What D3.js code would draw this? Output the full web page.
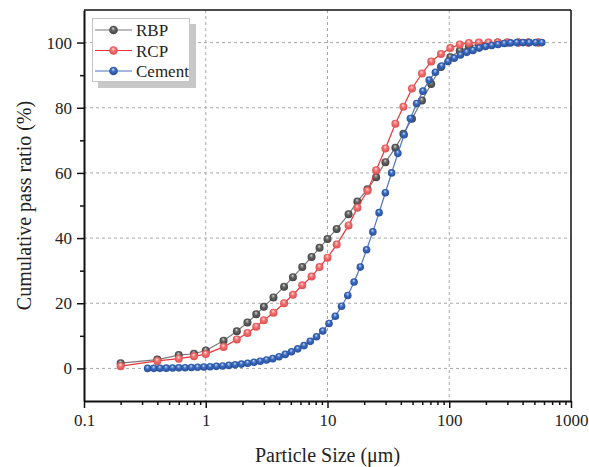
<!DOCTYPE html>
<html>
<head>
<meta charset="utf-8">
<script src="https://cdn.jsdelivr.net/npm/d3@7"></script>
<style>
  body { margin: 0; background: white; }
  svg text { font-family: "Liberation Serif", "Times New Roman", serif; fill: #222; }
</style>
</head>
<body>
<div id="chart"></div>
<script>
// particle sizes (um) for RBP and RCP (same instrument bins)
const rbpSize = [0.2, 0.4, 0.6, 0.8, 1.0, 1.4, 1.8, 2.2, 2.6, 3.0, 3.6, 4.4, 5.2, 6.2, 7.4, 8.6, 10, 11.9, 14.9, 17.6,
  21.3, 25.1, 29.9, 36.1, 42, 49.4, 59.7, 71.1, 85.5, 102, 122, 145, 175, 210, 250, 300, 370, 445, 540]
const rbpPass = [1.6, 2.7, 4.1, 4.5, 5.5, 8.5, 11.4, 14.1, 16.6, 18.9, 21.8, 25.1, 28.0, 31.1, 34.2, 37.0, 39.7, 42.8, 47.3, 51.2,
  55.0, 58.7, 63.3, 67.7, 72.0, 76.6, 82.2, 87.3, 92.5, 95.5, 97.5, 98.8, 99.5, 99.8, 100, 100, 100, 100, 100]
const rcpPass = [0.7, 2.3, 3.0, 3.7, 4.4, 6.6, 8.9, 10.9, 12.8, 14.8, 17.1, 20.0, 22.6, 25.5, 28.2, 31.1, 34.0, 38.0, 43.9, 49.3,
  54.5, 60.8, 67.5, 75.1, 80.3, 85.9, 90.5, 94.2, 96.5, 98.3, 99.4, 99.9, 100, 100, 100, 100, 100, 100, 100]

// cement bins
const cementSize = [0.333, 0.375, 0.421, 0.474, 0.534, 0.601, 0.677, 0.762, 0.857, 0.965,
  1.086, 1.223, 1.377, 1.550, 1.744, 1.963, 2.210, 2.488, 2.801, 3.152,
  3.548, 3.995, 4.496, 5.061, 5.697, 6.412, 7.218, 8.125, 9.146, 10.29,
  11.59, 13.04, 14.68, 16.53, 18.60, 20.94, 23.57, 26.53, 29.87, 33.62,
  37.84, 42.60, 47.96, 53.98, 60.77, 68.39, 76.98, 86.66, 97.54, 109.8,
  123.6, 139.1, 156.6, 176.3, 198.4, 223.4, 251.4, 283.0, 318.6, 358.6,
  403.6, 454.4, 511.5, 575.7]
const cementPass = [0, 0.02, 0.05, 0.08, 0.12, 0.17, 0.22, 0.28, 0.35, 0.43,
  0.52, 0.63, 0.76, 0.92, 1.1, 1.32, 1.58, 1.88, 2.2, 2.6,
  3.0, 3.6, 4.3, 5.1, 6.0, 7.0, 8.3, 9.7, 11.5, 13.8,
  16.0, 19.1, 22.4, 26.5, 31.1, 36.4, 41.9, 47.8, 53.9, 60.0,
  66.0, 71.7, 76.7, 81.3, 85.1, 88.5, 90.9, 92.8, 94.2, 95.2,
  96.2, 97.0, 97.6, 98.3, 98.8, 99.1, 99.4, 99.7, 99.9, 100,
  100, 100, 100, 100]

const xTicks = [0.1, 1, 10, 100, 1000]
const yTicks = [0, 20, 40, 60, 80, 100]
const yMinor = [10, 30, 50, 70, 90]

const series = [
  { name: 'RBP', x: rbpSize, y: rbpPass, line: '#7a7a7a', light: '#d8d8d8', mid: '#666666', dark: '#3c3c3c', r: 4 },
  { name: 'RCP', x: rbpSize, y: rcpPass, line: '#e8353a', light: '#ffe0e0', mid: '#f37475', dark: '#d9484a', r: 4 },
  { name: 'Cement', x: cementSize, y: cementPass, line: '#4a74c4', light: '#d6e2fa', mid: '#3d6cc2', dark: '#234a92', r: 3.8 }
]

const width = 589
const height = 467
const margin = { left: 84, right: 18, top: 10, bottom: 66 }

const svg = d3.select('#chart').append('svg')
  .attr('width', width)
  .attr('height', height)

const xScale = d3.scaleLog().domain([0.1, 1000]).range([margin.left, width - margin.right])
const yScale = d3.scaleLinear().domain([-10, 110]).range([height - margin.bottom, margin.top])

const defs = svg.append('defs')
series.forEach((s, i) => {
  const g = defs.append('radialGradient')
    .attr('id', 'ball' + i)
    .attr('cx', '50%').attr('cy', '50%').attr('r', '55%')
    .attr('fx', '45%').attr('fy', '28%')
  g.append('stop').attr('offset', '0%').attr('stop-color', s.light)
  g.append('stop').attr('offset', '40%').attr('stop-color', s.mid)
  g.append('stop').attr('offset', '100%').attr('stop-color', s.dark)
})

// grid
const grid = svg.append('g')
xTicks.slice(1, -1).forEach(v => {
  grid.append('line')
    .attr('x1', xScale(v)).attr('x2', xScale(v))
    .attr('y1', yScale(110)).attr('y2', yScale(-10))
    .attr('stroke', '#a8a8a8').attr('stroke-width', 1).attr('stroke-dasharray', '3,3')
})
yTicks.forEach(v => {
  grid.append('line')
    .attr('x1', xScale(0.1)).attr('x2', xScale(1000))
    .attr('y1', yScale(v)).attr('y2', yScale(v))
    .attr('stroke', '#a8a8a8').attr('stroke-width', 1).attr('stroke-dasharray', '3,3')
})

// data
const valueline = d3.line()
  .x(d => xScale(d[0]))
  .y(d => yScale(d[1]))

series.forEach((s, i) => {
  const pts = s.x.map((v, k) => [v, s.y[k]])
  svg.append('path')
    .datum(pts)
    .attr('d', valueline)
    .attr('fill', 'none')
    .attr('stroke', s.line)
    .attr('stroke-width', 1.2)
  svg.append('g').selectAll('circle')
    .data(pts)
    .join('circle')
    .attr('cx', d => xScale(d[0]))
    .attr('cy', d => yScale(d[1]))
    .attr('r', s.r)
    .attr('fill', 'url(#ball' + i + ')')
})

// frame top / right
svg.append('line')
  .attr('x1', xScale(0.1)).attr('x2', xScale(1000))
  .attr('y1', yScale(110)).attr('y2', yScale(110))
  .attr('stroke', '#111').attr('stroke-width', 1.5)
svg.append('line')
  .attr('x1', xScale(1000)).attr('x2', xScale(1000))
  .attr('y1', yScale(110)).attr('y2', yScale(-10))
  .attr('stroke', '#111').attr('stroke-width', 1.5)

// x axis
const xMinorVals = []
;[0.1, 1, 10, 100].forEach(d => { for (let k = 2; k <= 9; k++) xMinorVals.push(d * k) })

const xAxisG = svg.append('g')
  .attr('transform', 'translate(0,' + yScale(-10) + ')')
xAxisG.append('g')
  .call(d3.axisBottom(xScale).tickValues(xMinorVals).tickSize(4).tickFormat(''))
  .call(g => g.select('.domain').remove())
xAxisG.append('g')
  .call(d3.axisBottom(xScale).tickValues(xTicks).tickSize(7).tickSizeOuter(0).tickPadding(6)
    .tickFormat(d => String(d)))
xAxisG.selectAll('.tick line').attr('stroke', '#111').attr('stroke-width', 1.5)
xAxisG.selectAll('.domain').attr('stroke', '#111').attr('stroke-width', 2)
xAxisG.selectAll('text').style('font-size', '17px').attr('fill', '#222')

// y axis
const yAxisG = svg.append('g')
  .attr('transform', 'translate(' + xScale(0.1) + ',0)')
yAxisG.append('g')
  .call(d3.axisLeft(yScale).tickValues(yMinor).tickSize(4).tickFormat(''))
  .call(g => g.select('.domain').remove())
yAxisG.append('g')
  .call(d3.axisLeft(yScale).tickValues(yTicks).tickSize(7).tickSizeOuter(0).tickPadding(5))
yAxisG.selectAll('.tick line').attr('stroke', '#111').attr('stroke-width', 1.5)
yAxisG.selectAll('.domain').attr('stroke', '#111').attr('stroke-width', 2)
yAxisG.selectAll('text').style('font-size', '17px').attr('fill', '#222')

// axis titles
svg.append('text')
  .attr('x', (xScale(0.1) + xScale(1000)) / 2)
  .attr('y', 462)
  .attr('text-anchor', 'middle')
  .style('font-size', '20px')
  .text('Particle Size (\u03bcm)')
svg.append('text')
  .attr('transform', 'translate(31,' + (yScale(50)) + ') rotate(-90)')
  .attr('text-anchor', 'middle')
  .style('font-size', '20px')
  .text('Cumulative pass ratio (%)')

// legend
const legend = svg.append('g')
legend.append('rect')
  .attr('x', 98).attr('y', 24).attr('width', 98).attr('height', 64)
  .attr('fill', '#c8c8c8')
legend.append('rect')
  .attr('x', 92.5).attr('y', 18.5).attr('width', 97).attr('height', 63)
  .attr('fill', 'white').attr('stroke', '#c4c4c4').attr('stroke-width', 1)
series.forEach((s, i) => {
  const ly = 30 + i * 20.5
  legend.append('line')
    .attr('x1', 95).attr('x2', 132).attr('y1', ly).attr('y2', ly)
    .attr('stroke', s.line).attr('stroke-width', 1.2)
  legend.append('circle')
    .attr('cx', 113.5).attr('cy', ly).attr('r', 4.3)
    .attr('fill', 'url(#ball' + i + ')')
  legend.append('text')
    .attr('x', 136).attr('y', ly + 6)
    .style('font-size', '17px')
    .text(s.name)
})
</script>
</body>
</html>
